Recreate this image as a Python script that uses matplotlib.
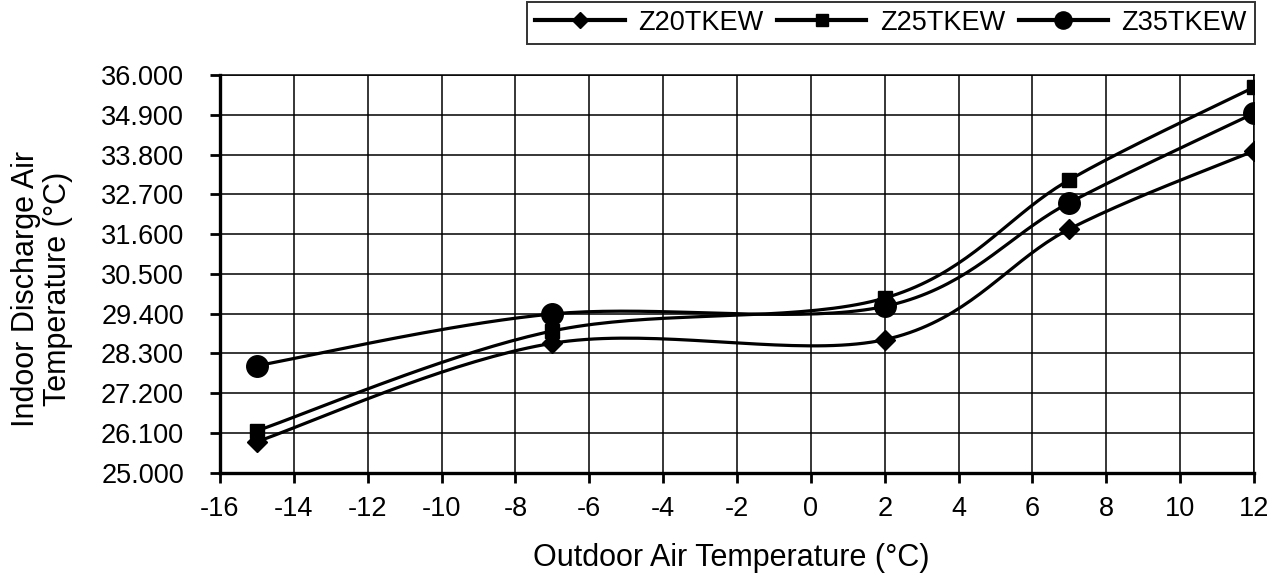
import numpy as np
import matplotlib
matplotlib.use('Agg')
import matplotlib.pyplot as plt

plt.rcParams['font.family'] = ['Liberation Sans', 'DejaVu Sans']
plt.rcParams['axes.unicode_minus'] = False

outdoor = [-15, -7, 2, 7, 12]
z20 = [25.86, 28.58, 28.68, 31.74, 33.90]
z25 = [26.16, 28.92, 29.83, 33.10, 35.66]
z35 = [27.96, 29.39, 29.60, 32.47, 34.94]
names = ['Z20TKEW', 'Z25TKEW', 'Z35TKEW']
markers = ['D', 's', 'o']
msizes = [10.5, 10, 15.5]

y_ticks = [25.0 + 1.1 * i for i in range(11)]
x_ticks = list(range(-16, 13, 2))


def smooth(xs, ys, n=40):
    # spreadsheet style smoothed line: cubic bezier, catmull-rom control points
    p = np.column_stack([xs, ys]).astype(float)
    out = []
    for i in range(len(p) - 1):
        p0 = p[i - 1] if i > 0 else p[i]
        p1, p2 = p[i], p[i + 1]
        p3 = p[i + 2] if i + 2 < len(p) else p[i + 1]
        c1 = p1 + (p2 - p0) / 6
        c2 = p2 - (p3 - p1) / 6
        t = np.linspace(0, 1, n)[:, None]
        seg = ((1 - t) ** 3) * p1 + 3 * ((1 - t) ** 2) * t * c1 + 3 * (1 - t) * t ** 2 * c2 + t ** 3 * p2
        out.append(seg if i == 0 else seg[1:])
    out = np.vstack(out)
    return out[:, 0], out[:, 1]


fig = plt.figure(figsize=(12.82, 5.79), dpi=100)
ax = fig.add_axes([0.1716, 0.1836, 0.8066, 0.6869])

handles = []
for ys, name, m, ms in zip([z20, z25, z35], names, markers, msizes):
    sx, sy = smooth(outdoor, ys)
    ax.plot(sx, sy, color='black', lw=2.3, solid_joinstyle='round', zorder=3)
    ax.plot(outdoor, ys, ls='none', marker=m, ms=ms, color='black', zorder=4)
    h, = ax.plot([], [], color='black', lw=3, marker=m, ms=ms * 0.8, label=name)
    handles.append(h)

ax.set_xlim(-16, 12)
ax.set_ylim(25.0, 36.0)
ax.set_xticks(x_ticks)
ax.set_yticks(y_ticks)
ax.set_yticklabels(['%.3f' % v for v in y_ticks])
ax.grid(True, color='black', lw=1.1)
ax.set_axisbelow(True)
for s in ['top', 'right']:
    ax.spines[s].set_linewidth(1.1)
for s in ['bottom', 'left']:
    ax.spines[s].set_linewidth(2.4)
ax.tick_params(axis='both', labelsize=19.5, direction='out', length=7, width=2)
ax.tick_params(axis='y', pad=19)
ax.tick_params(axis='x', pad=10)

fig.text(731 / 1282, 1 - 558 / 579, 'Outdoor Air Temperature (°C)', fontsize=22,
         ha='center', va='center')
fig.text(42 / 1282, 1 - 289 / 579, 'Indoor Discharge Air\nTemperature (°C)', fontsize=22,
         ha='center', va='center', rotation=90, multialignment='center', linespacing=1.1)

leg = fig.legend(handles=handles, loc='upper right', bbox_to_anchor=(0.979, 0.997),
                 ncol=3, fontsize=19.5, frameon=True, fancybox=False, handlelength=3.3,
                 handletextpad=0.5, columnspacing=0.5, borderpad=0.3, borderaxespad=0)
leg.get_frame().set_edgecolor('black')
leg.get_frame().set_linewidth(1.4)

fig.savefig('out.png', dpi=100)
